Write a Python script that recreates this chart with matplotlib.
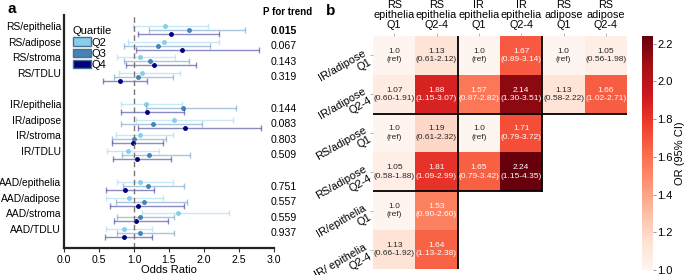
import numpy as np
import matplotlib
matplotlib.use('Agg')
import matplotlib.pyplot as plt
from matplotlib.patches import Patch
from matplotlib.transforms import blended_transform_factory

plt.rcParams['font.family'] = ['Liberation Sans', 'DejaVu Sans']

# ---- panel a data (odds ratio, lower CI, upper CI) ----
sites = ['RS/epithelia', 'RS/adipose', 'RS/stroma', 'RS/TDLU',
         'IR/epithelia', 'IR/adipose', 'IR/stroma', 'IR/TDLU',
         'AAD/epithelia', 'AAD/adipose', 'AAD/stroma', 'AAD/TDLU']
site_pos = [0, 1, 2, 3, 5, 6, 7, 8, 10, 11, 12, 13]

q2_or = [1.44, 1.43, 1.09, 1.12, 1.17, 1.57, 1.08, 0.91, 1.09, 0.93, 1.63, 0.86]
q2_lo = [0.99, 0.92, 0.76, 0.78, 0.81, 1.03, 0.74, 0.62, 0.75, 0.60, 1.12, 0.60]
q2_hi = [2.06, 2.21, 1.58, 1.65, 1.68, 2.41, 1.56, 1.35, 1.56, 1.42, 2.36, 1.25]

q3_or = [1.78, 1.34, 1.23, 1.06, 1.70, 1.27, 1.00, 1.22, 1.20, 1.14, 1.09, 1.09]
q3_lo = [1.22, 0.86, 0.85, 0.72, 1.17, 0.82, 0.69, 0.83, 0.84, 0.74, 0.75, 0.75]
q3_hi = [2.58, 2.09, 1.78, 1.56, 2.46, 1.97, 1.45, 1.80, 1.72, 1.76, 1.57, 1.57]

q4_or = [1.53, 1.69, 1.29, 0.80, 1.19, 1.73, 0.98, 1.04, 0.87, 1.06, 1.03, 0.86]
q4_lo = [1.05, 1.03, 0.89, 0.55, 0.81, 1.06, 0.68, 0.70, 0.60, 0.66, 0.71, 0.59]
q4_hi = [2.22, 2.78, 1.88, 1.19, 1.71, 2.82, 1.42, 1.53, 1.28, 1.72, 1.48, 1.25]

p_trend = ['0.015', '0.067', '0.143', '0.319', '0.144', '0.083',
           '0.803', '0.509', '0.751', '0.557', '0.559', '0.937']

# ---- panel b data ----
col_labels = ['RS\nepithelia\nQ1', 'RS\nepithelia\nQ2-4', 'IR\nepithelia\nQ1',
              'IR\nepithelia\nQ2-4', 'RS\nadipose\nQ1', 'RS\nadipose\nQ2-4']
row_labels = ['IR/adipose\nQ1', 'IR/adipose\nQ2-4', 'RS/adipose\nQ1',
              'RS/adipose\nQ2-4', 'IR/epithelia\nQ1', 'IR/ epithelia\nQ2-4']
or_grid = np.array([
    [1.0, 1.13, 1.0, 1.67, 1.0, 1.05],
    [1.07, 1.88, 1.57, 2.14, 1.13, 1.66],
    [1.0, 1.19, 1.0, 1.71, np.nan, np.nan],
    [1.05, 1.81, 1.65, 2.24, np.nan, np.nan],
    [1.0, 1.53, np.nan, np.nan, np.nan, np.nan],
    [1.13, 1.64, np.nan, np.nan, np.nan, np.nan]])
ci_grid = [
    ['(ref)', '(0.61-2.12)', '(ref)', '(0.89-3.14)', '(ref)', '(0.56-1.98)'],
    ['(0.60-1.91)', '(1.15-3.07)', '(0.87-2.82)', '(1.30-3.51)', '(0.58-2.22)', '(1.02-2.71)'],
    ['(ref)', '(0.61-2.32)', '(ref)', '(0.79-3.72)', '', ''],
    ['(0.58-1.88)', '(1.09-2.99)', '(0.79-3.42)', '(1.15-4.35)', '', ''],
    ['(ref)', '(0.90-2.60)', '', '', '', ''],
    ['(0.66-1.92)', '(1.13-2.38)', '', '', '', '']]

W, H = 685, 275
fig = plt.figure(figsize=(6.85, 2.75), dpi=100)

def px_axes(x0, y0, x1, y1):
    # pixel box (top-left origin) -> figure axes
    return fig.add_axes([x0 / W, 1 - y1 / H, (x1 - x0) / W, (y1 - y0) / H])

# ================= panel a =================
ax = px_axes(64, 15, 274, 248)
series = [
    ('Q2', q2_or, q2_lo, q2_hi, 0.0, '#87ceeb'),
    ('Q3', q3_or, q3_lo, q3_hi, 0.26, '#4682b4'),
    ('Q4', q4_or, q4_lo, q4_hi, 0.52, '#000080'),
]
for name, o, lo, hi, off, col in series:
    o = np.array(o); lo = np.array(lo); hi = np.array(hi)
    y = np.array(site_pos) + off
    ax.errorbar(o, y, xerr=[o - lo, hi - o], fmt='none', ecolor=col,
                alpha=0.45, elinewidth=1.0, capsize=2.2, capthick=1.0)
    ax.plot(o, y, 'o', color=col, markersize=2.5, linestyle='none')

ax.axvline(1.0, color='#777777', linestyle=(0, (4, 2.5)), linewidth=1)
ax.set_xlim(0, 3)
ax.set_ylim(14.23, -0.7)
ax.set_yticks(site_pos)
ax.set_yticklabels(sites, fontsize=7.4)
ax.tick_params(axis='y', length=0, pad=2)
ax.set_xticks(np.arange(0, 3.01, 0.5))
ax.set_xticklabels(['%.1f' % v for v in np.arange(0, 3.01, 0.5)], fontsize=7.6)
ax.tick_params(axis='x', length=3, width=0.8, pad=2, color='#333333')
ax.set_xlabel('Odds Ratio', fontsize=8, labelpad=0)
for s in ['top', 'right']:
    ax.spines[s].set_visible(False)
for s in ['left', 'bottom']:
    ax.spines[s].set_linewidth(1.6)
    ax.spines[s].set_color('#222222')

handles = [Patch(facecolor=c, edgecolor='#4a6f95', label=n) for n, *_, c in series]
leg = ax.legend(handles=handles, title='Quartile', loc='upper left',
                bbox_to_anchor=(0.01, 0.98), frameon=False, fontsize=8,
                title_fontsize=8, handlelength=1.6, handleheight=0.8,
                handletextpad=0.1, labelspacing=0.1, borderaxespad=0.2)
leg._legend_box.align = 'left'

# P for trend column
tr = blended_transform_factory(ax.transAxes, ax.transData)
px_x = (284 - 64) / 210
ax.text((288 - 64) / 210, -0.9, 'P for trend', transform=tr, ha='center',
        va='center', fontsize=7, fontweight='bold', clip_on=False)
for i, (p, yp) in enumerate(zip(p_trend, site_pos)):
    ax.text(px_x, yp + 0.3, p, transform=tr, ha='center', va='center',
            fontsize=7.6, fontweight='bold' if i == 0 else 'normal', clip_on=False)

fig.text(8 / W, 1 - 9 / H, 'a', fontsize=11, fontweight='bold', va='center')

# ================= panel b =================
hx = px_axes(373, 36, 627, 269)
vmin, vmax = 1.0, 2.24
im = hx.imshow(np.ma.masked_invalid(or_grid), cmap='Reds', vmin=vmin, vmax=vmax,
               aspect='auto', interpolation='nearest')
hx.set_xlim(-0.5, 5.5)
hx.set_ylim(5.5, -0.5)
for s in hx.spines.values():
    s.set_visible(False)
hx.xaxis.tick_top()
hx.set_xticks(range(6))
hx.set_xticklabels(col_labels, fontsize=7.8, linespacing=1.05)
hx.set_yticks(range(6))
hx.set_yticklabels(row_labels, fontsize=7.9, rotation=30, ha='right',
                   rotation_mode='anchor', linespacing=1.05)
hx.tick_params(axis='both', length=2, width=0.6, color='#aaaaaa', pad=2)

for r in range(6):
    for c in range(6):
        v = or_grid[r, c]
        if np.isnan(v):
            continue
        txt = ('%.1f' % v if ci_grid[r][c] == '(ref)' else '%.2f' % v) + '\n' + ci_grid[r][c]
        col = 'white' if v > 1.45 else '#262626'
        hx.text(c, r, txt, ha='center', va='center', fontsize=6.0, color=col,
                linespacing=1.3)

# block borders
hx.plot([1.5, 1.5], [-0.5, 5.5], color='black', linewidth=1.3)
hx.plot([3.5, 3.5], [-0.5, 3.5], color='black', linewidth=1.3)
hx.plot([-0.5, 5.5], [1.5, 1.5], color='black', linewidth=1.3)
hx.plot([-0.5, 3.5], [3.5, 3.5], color='black', linewidth=1.3)

cax = px_axes(642, 36, 653, 270)
cb = fig.colorbar(im, cax=cax)
cb.outline.set_visible(False)
cb.set_ticks([1.0, 1.2, 1.4, 1.6, 1.8, 2.0, 2.2])
cb.ax.tick_params(labelsize=8, length=2, width=0.6, color='#888888', pad=1)
cb.set_label('OR (95% CI)', fontsize=8, labelpad=2)

fig.text(326 / W, 1 - 11 / H, 'b', fontsize=11, fontweight='bold', va='center')

fig.savefig('out.png', dpi=100)
